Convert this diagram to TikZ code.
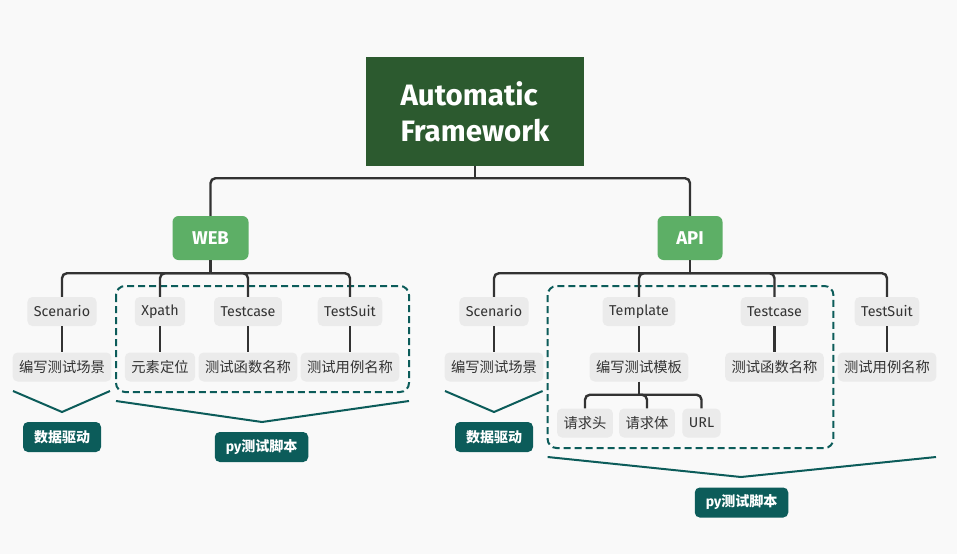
\documentclass[tikz,border=0pt]{standalone}
\usepackage{fontspec}
\setmainfont{Fira Sans}
\newfontfamily\cjk{Noto Sans CJK SC}
\usetikzlibrary{calc}
\definecolor{bgc}{HTML}{F9F9F9}
\definecolor{rootc}{HTML}{2C5A2F}
\definecolor{greenc}{HTML}{5DAF66}
\definecolor{tealc}{HTML}{0C5C5A}
\definecolor{leafc}{HTML}{EBEBEB}
\definecolor{linec}{HTML}{333333}
\tikzset{
  rootbox/.style={fill=rootc, text=white, minimum width=218pt, minimum height=109pt, inner sep=0pt, align=left, font=\fontsize{29.5}{36}\selectfont\bfseries},
  branch/.style={fill=greenc, text=white, rounded corners=6pt, minimum height=44pt, inner sep=0pt, font=\fontsize{18.5}{20}\selectfont\bfseries},
  leaf/.style={fill=leafc, text=linec, rounded corners=5pt, minimum height=29pt, inner xsep=6.5pt, inner ysep=0pt, font=\fontsize{14.3}{16}\selectfont},
  tag/.style={fill=tealc, text=white, rounded corners=5pt, minimum height=30pt, inner xsep=11pt, inner ysep=0pt, font=\fontsize{14}{16}\selectfont\bfseries},
  conn/.style={draw=linec, line width=2.4pt, rounded corners=5pt},
  group/.style={draw=tealc, line width=2pt, dash pattern=on 7pt off 4pt, rounded corners=9pt},
  bracket/.style={draw=tealc, line width=2pt},
}
\begin{document}
\begin{tikzpicture}[x=1pt,y=-1pt]
\fill[bgc] (0,0) rectangle (957,554);
\useasboundingbox (0,0) rectangle (957,554);

% groups
\draw[group] (116,286) rectangle (409,392);
\draw[group] (547.6,286) rectangle (833.4,448);

% root and branches
\node[rootbox] (root) at (475,111.5) {Automatic\\Framework};
\node[branch, minimum width=76pt] (web) at (210.5,238) {WEB};
\node[branch, minimum width=65pt] (api) at (690,238) {API};

% web leaves
\node[leaf] (scen1) at (62,311.5) {Scenario};
\node[leaf] (xpath) at (160,311.5) {Xpath};
\node[leaf] (tc1) at (248,311.5) {Testcase};
\node[leaf] (ts1) at (350,311.5) {TestSuit};
\node[leaf] (w1) at (62,367) {\cjk 编写测试场景};
\node[leaf] (w2) at (160,367) {\cjk 元素定位};
\node[leaf] (w3) at (248,367) {\cjk 测试函数名称};
\node[leaf] (w4) at (350,367) {\cjk 测试用例名称};

% api leaves
\node[leaf] (scen2) at (494,311.5) {Scenario};
\node[leaf] (tpl) at (639,311.5) {Template};
\node[leaf] (tc2) at (774.5,311.5) {Testcase};
\node[leaf] (ts2) at (887,311.5) {TestSuit};
\node[leaf] (a1) at (494,367) {\cjk 编写测试场景};
\node[leaf] (a2) at (639,367) {\cjk 编写测试模板};
\node[leaf] (a3) at (774.5,367) {\cjk 测试函数名称};
\node[leaf] (a4) at (887,367) {\cjk 测试用例名称};
\node[leaf] (r1) at (585,423) {\cjk 请求头};
\node[leaf] (r2) at (647,423) {\cjk 请求体};
\node[leaf] (r3) at (701.5,423) {URL};

% tags
\node[tag] (dd1) at (62,437) {\cjk 数据驱动};
\node[tag] (py1) at (261.5,447) {py{\cjk 测试脚本}};
\node[tag] (dd2) at (494,437) {\cjk 数据驱动};
\node[tag] (py2) at (741.5,502.5) {py{\cjk 测试脚本}};

% connectors
\coordinate (rj) at ($(root.south)+(0,12)$);
\draw[conn] (root.south) -- (rj);
\draw[conn] (web.north) |- (rj -| api.north) -- (api.north);

\coordinate (wj) at ($(web.south)+(0,13)$);
\draw[conn] (web.south) -- (wj);
\draw[conn] (wj) -| (scen1.north);
\draw[conn] (wj) -| (xpath.north);
\draw[conn] (wj) -| (tc1.north);
\draw[conn] (wj) -| (ts1.north);

\coordinate (aj) at ($(api.south)+(0,13)$);
\draw[conn] (api.south) -- (aj);
\draw[conn] (aj) -| (scen2.north);
\draw[conn] (aj) -| (tpl.north);
\draw[conn] (aj) -| (tc2.north);
\draw[conn] (aj) -| (ts2.north);

\foreach \p/\c in {scen1/w1, xpath/w2, tc1/w3, ts1/w4, scen2/a1, tpl/a2, tc2/a3, ts2/a4}
  \draw[conn] (\p.south) -- (\c.north);

\coordinate (tj) at ($(a2.south)+(0,13)$);
\draw[conn] (a2.south) -- (tj);
\draw[conn] (tj) -| (r1.north);
\draw[conn] (tj) -| (r2.north);
\draw[conn] (tj) -| (r3.north);

% brackets
\draw[bracket] (13,391) -- (62,412) -- (110,391);
\draw[bracket] (116,401) -- (262,422) -- (409,401);
\draw[bracket] (445,391) -- (494,412) -- (542.6,391);
\draw[bracket] (547.6,457) -- (741,477) -- (936,457);
\end{tikzpicture}
\end{document}
